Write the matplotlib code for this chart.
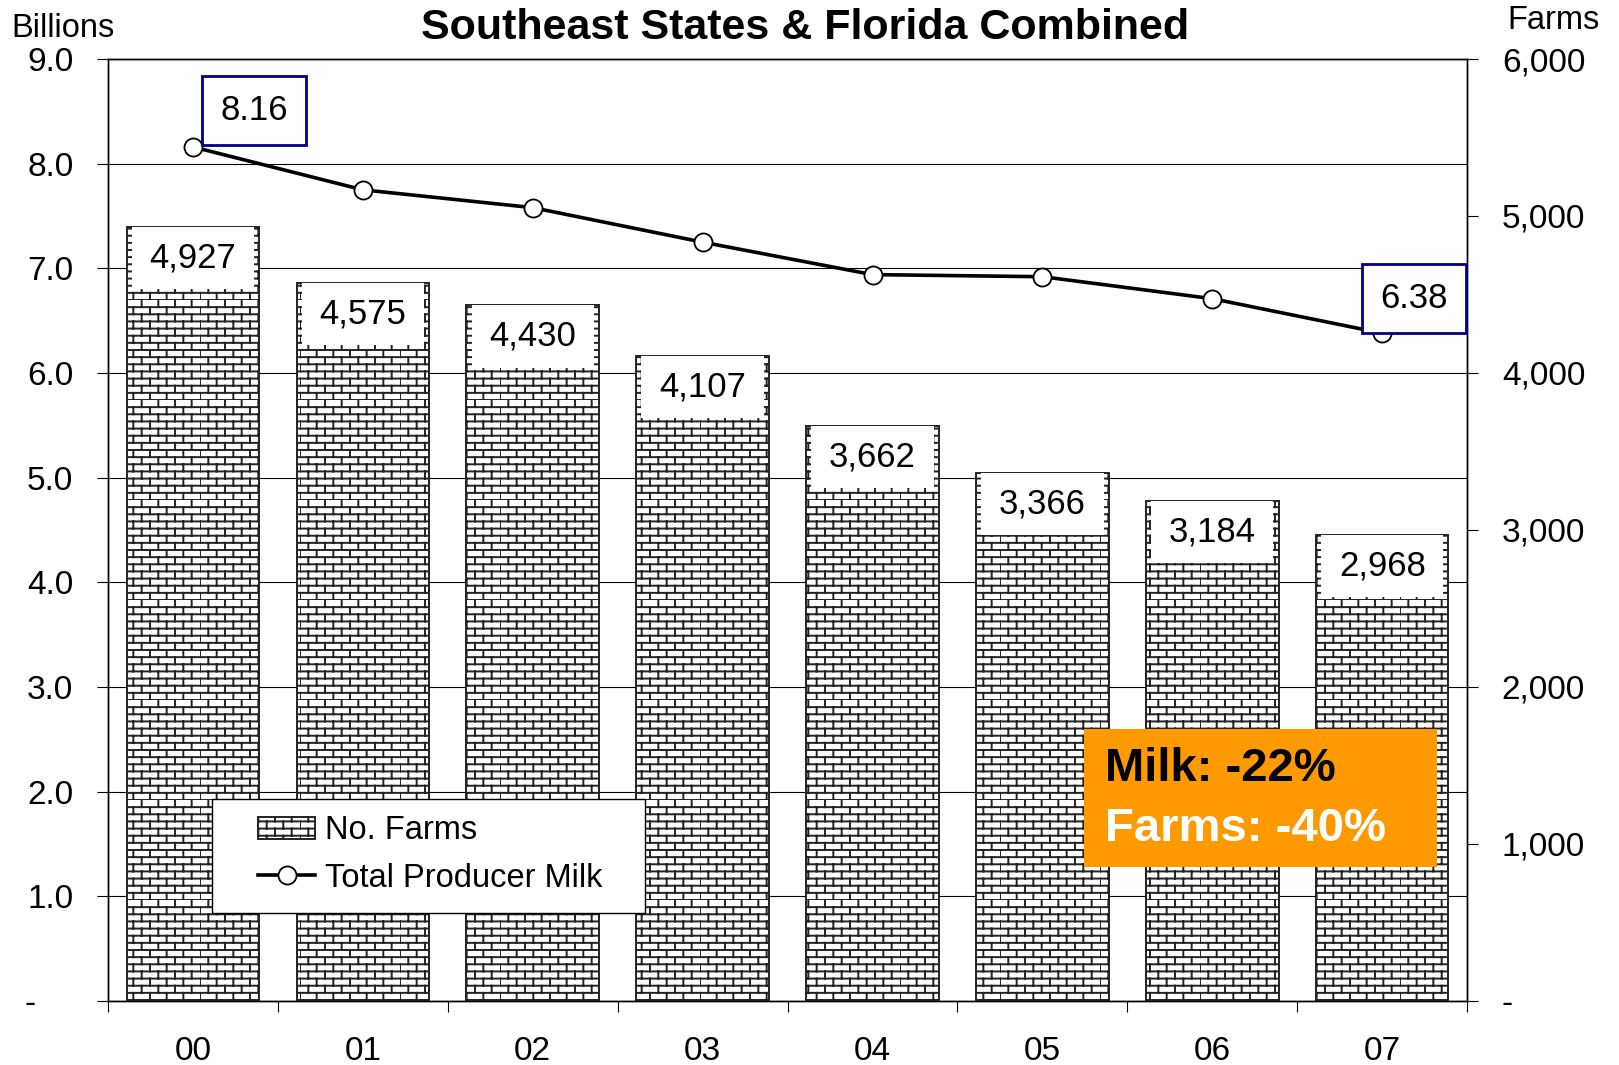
import warnings
import numpy as np
import matplotlib
matplotlib.use('Agg')
import matplotlib.pyplot as plt
from matplotlib import hatch as mhatch
from matplotlib.path import Path
from matplotlib.patches import Rectangle
from matplotlib.ticker import FixedLocator, FuncFormatter

warnings.filterwarnings('ignore')

# Data
years = ['00', '01', '02', '03', '04', '05', '06', '07']
farms = [4927, 4575, 4430, 4107, 3662, 3366, 3184, 2968]
milk = [8.16, 7.75, 7.58, 7.25, 6.94, 6.92, 6.71, 6.38]
milk_labels = {0: '8.16', 7: '6.38'}
milk_change = 'Milk: -22%'
farms_change = 'Farms: -40%'


class BrickHatch(mhatch.HatchPatternBase):
    """Brick wall hatch, used with the character 'b'."""
    rows = 14
    cols = 6

    def __init__(self, hatch, density):
        self.on = 'b' in hatch
        self.num_vertices = (self.rows * 2 + self.rows * self.cols * 2) if self.on else 0

    def set_vertices_and_codes(self, vertices, codes):
        k = 0
        for r in range(self.rows):
            y0 = r / self.rows
            y1 = (r + 1) / self.rows
            vertices[k] = (0, y0)
            vertices[k + 1] = (1, y0)
            codes[k] = Path.MOVETO
            codes[k + 1] = Path.LINETO
            k += 2
            for c in range(self.cols):
                xx = (c + 0.5 * (r % 2)) / self.cols
                vertices[k] = (xx, y0)
                vertices[k + 1] = (xx, y1)
                codes[k] = Path.MOVETO
                codes[k + 1] = Path.LINETO
                k += 2


mhatch._hatch_types.append(BrickHatch)

plt.rcParams['font.family'] = ['Liberation Sans', 'DejaVu Sans']
plt.rcParams['hatch.linewidth'] = 1.4

x = np.arange(len(years))

fig = plt.figure(figsize=(16.19, 10.65), dpi=100)
ax = fig.add_axes([0.0667, 0.0601, 0.8395, 0.8845])
ax2 = ax.twinx()

# left axis: milk (billions); zero shown as a dash, Excel style
ax.set_xlim(-0.5, len(years) - 0.5)
ax.set_ylim(0, 9)
ax.yaxis.set_major_locator(FixedLocator(np.arange(0, 10)))
ax.yaxis.set_major_formatter(
    FuncFormatter(lambda v, p: '-\u2007\u2007' if v == 0 else f'{v:.1f}'))
ax.yaxis.grid(True, color='black', lw=0.8)
ax.set_axisbelow(True)
ax.tick_params(axis='y', direction='out', length=8, width=0.8, labelsize=24, pad=17)

# x axis: boundary ticks, labels centred
ax.xaxis.set_major_locator(FixedLocator(np.arange(len(years) + 1) - 0.5))
ax.xaxis.set_minor_locator(FixedLocator(x))
ax.set_xticklabels([''] * (len(years) + 1))
ax.set_xticklabels(years, minor=True)
ax.tick_params(axis='x', which='major', direction='out', length=8, width=0.8)
ax.tick_params(axis='x', which='minor', length=0, labelsize=24, pad=25)

# right axis: farms
ax2.set_ylim(0, 6000)
ax2.yaxis.set_major_locator(FixedLocator(np.arange(0, 7000, 1000)))
ax2.yaxis.set_major_formatter(FuncFormatter(lambda v, p: '-' if v == 0 else f'{int(v):,}'))
ax2.tick_params(axis='y', direction='out', length=8, width=0.8, labelsize=24, pad=17)

for a in (ax, ax2):
    for s in a.spines.values():
        s.set_linewidth(1.0)
        s.set_color('black')

bars = ax2.bar(x, farms, width=0.78, color='white', edgecolor='#222222',
               hatch='b', linewidth=1.4, zorder=2, label='No. Farms')

# white label boxes at the top of each bar
box_h = 395
box_w = 0.72
ax2.bar(x, [box_h] * len(x), bottom=[f - box_h for f in farms], width=box_w,
        color='white', linewidth=0, zorder=3)
for xi, f in zip(x, farms):
    ax2.text(xi, f - box_h / 2, f'{f:,}', ha='center', va='center',
             fontsize=25, zorder=4)

# milk line, drawn on ax2 but using the left scale
line, = ax2.plot(x, milk, transform=ax.transData, color='black', lw=2.6,
                 marker='o', markersize=13, markerfacecolor='white',
                 markeredgecolor='black', markeredgewidth=1.3, zorder=5,
                 label='Total Producer Milk')
ax2.set_ylim(0, 6000)

offsets = {0: (44, 26), 7: (23, 25)}
for i, txt in milk_labels.items():
    ax2.annotate(txt, xy=(x[i], milk[i]), xycoords=ax.transData,
                 xytext=offsets[i], textcoords='offset points',
                 ha='center', va='center', fontsize=25, zorder=6,
                 bbox=dict(boxstyle='square,pad=0.52', fc='white',
                           ec='#000080', lw=2))

# legend: frame drawn as a box, entries placed inside it
ax2.add_patch(Rectangle((0.0765, 0.0934), 0.3185, 0.121, transform=ax2.transAxes,
                        facecolor='white', edgecolor='black', lw=1.0, zorder=7))
leg = ax2.legend(handles=[bars, line], loc='center left',
                 bbox_to_anchor=(0.1104, 0.1555), fontsize=23.5,
                 frameon=False, borderpad=0, labelspacing=0.5,
                 handlelength=1.75, handletextpad=0.3, borderaxespad=0)
leg.set_zorder(8)

# orange summary box
ax2.add_patch(Rectangle((0.718, 0.142), 0.26, 0.147, transform=ax2.transAxes,
                        facecolor='#FF9900', edgecolor='none', zorder=7))
ax2.text(0.7336, 0.246, milk_change, transform=ax2.transAxes, ha='left',
         va='center', fontsize=34, fontweight='bold', color='black', zorder=8)
ax2.text(0.7336, 0.1826, farms_change, transform=ax2.transAxes, ha='left',
         va='center', fontsize=34, fontweight='bold', color='white', zorder=8)

# titles
fig.text(0.497, 0.974, 'Southeast States & Florida Combined', ha='center',
         va='center', fontsize=31, fontweight='bold')
fig.text(0.007, 0.973, 'Billions', ha='left', va='center', fontsize=23.5)
fig.text(0.988, 0.981, 'Farms', ha='right', va='center', fontsize=23.5)

fig.savefig('out.png', dpi=100)
